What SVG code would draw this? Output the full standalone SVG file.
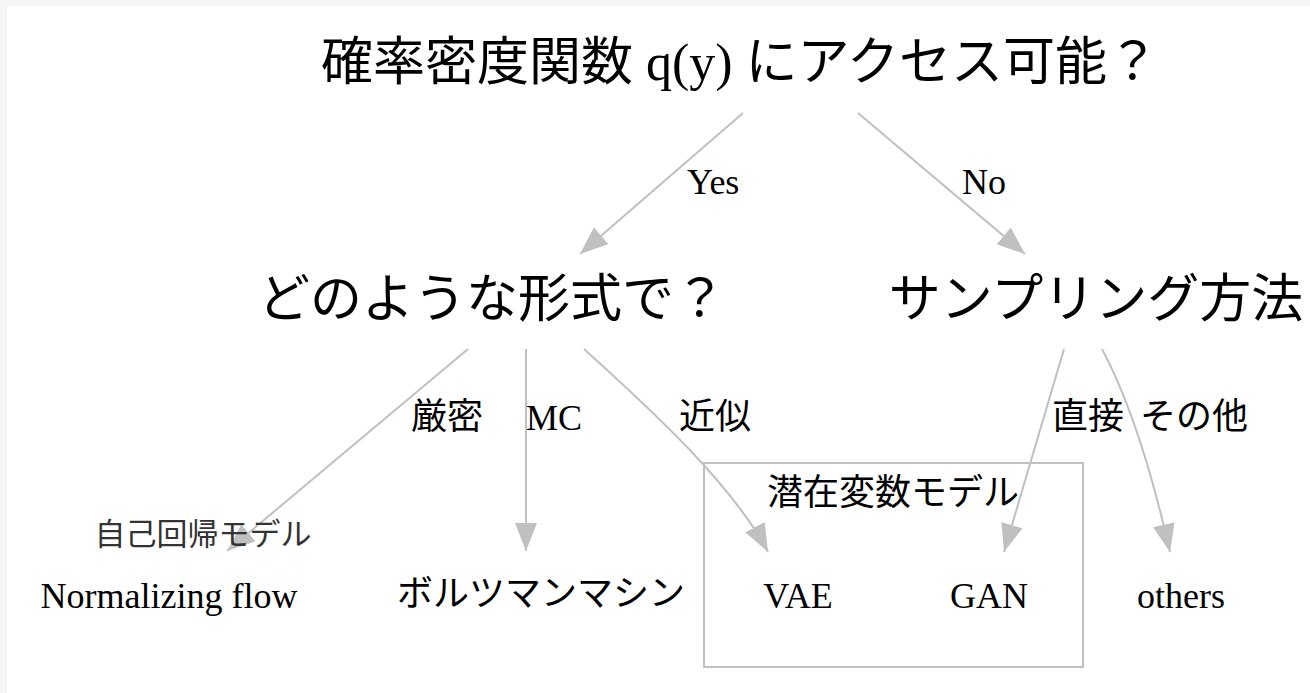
<svg xmlns="http://www.w3.org/2000/svg" width="1310" height="693" viewBox="0 0 1310 693">
<defs>
<marker id="ah" markerUnits="userSpaceOnUse" markerWidth="30" markerHeight="24" refX="28" refY="11" orient="auto">
<path d="M0,0 L28,11 L0,22 z" fill="#c0c0c0"/>
</marker>
<style>
.t{font-family:"Liberation Serif","Noto Sans CJK JP",serif;fill:#000}
.big{font-size:52px}
.lab{font-size:36px}
.sans{font-family:"Liberation Sans","Noto Sans CJK JP",sans-serif;font-size:31px;fill:#333}
.e{fill:none;stroke:#c0c0c0;stroke-width:2;marker-end:url(#ah)}
.cl{fill:none;stroke:#c0c0c0;stroke-width:2}
</style>
</defs>
<rect width="1310" height="693" fill="#f5f5f5"/>
<rect x="7" y="6" width="1303" height="687" fill="#fff"/>
<g id="cluster-latent">
<rect class="cl" x="704" y="463" width="379" height="204"/>
<text class="t lab" x="893" y="505" text-anchor="middle">潜在変数モデル</text>
</g>
<g id="connectors">
<path class="e" d="M743,113 L580,254"/>
<path class="e" d="M858,113 L1025,254"/>
<path class="e" d="M468,349 L227,551"/>
<path class="e" d="M526,349 L526,551"/>
<path class="e" d="M584,349 C640,400 730,480 768,552"/>
<path class="e" d="M1064,349 L1004,552"/>
<path class="e" d="M1102,349 Q1140,420 1170,552"/>
<text class="t lab" x="687" y="194">Yes</text>
<text class="t lab" x="962" y="194">No</text>
<text class="t lab" x="447" y="429" text-anchor="middle">厳密</text>
<text class="t lab" x="526" y="430">MC</text>
<text class="t lab" x="715" y="429" text-anchor="middle">近似</text>
<text class="t lab" x="1088" y="429" text-anchor="middle">直接</text>
<text class="t lab" x="1194" y="429" text-anchor="middle">その他</text>
</g>
<g id="n-root"><text class="t big" x="740" y="80" text-anchor="middle">確率密度関数 q(y) にアクセス可能？</text></g>
<g id="n-form"><text class="t big" x="492" y="317" text-anchor="middle">どのような形式で？</text></g>
<g id="n-sampling"><text class="t big" x="1096" y="317" text-anchor="middle">サンプリング方法</text></g>
<g id="n-nf">
<text class="sans" x="203" y="545" text-anchor="middle">自己回帰モデル</text>
<text class="t lab" x="169" y="608" text-anchor="middle">Normalizing flow</text>
</g>
<g id="n-bm"><text class="t lab" x="541" y="606" text-anchor="middle">ボルツマンマシン</text></g>
<g id="n-vae"><text class="t lab" x="798" y="608" text-anchor="middle">VAE</text></g>
<g id="n-gan"><text class="t lab" x="989" y="608" text-anchor="middle">GAN</text></g>
<g id="n-others"><text class="t lab" x="1181" y="608" text-anchor="middle">others</text></g>
</svg>
